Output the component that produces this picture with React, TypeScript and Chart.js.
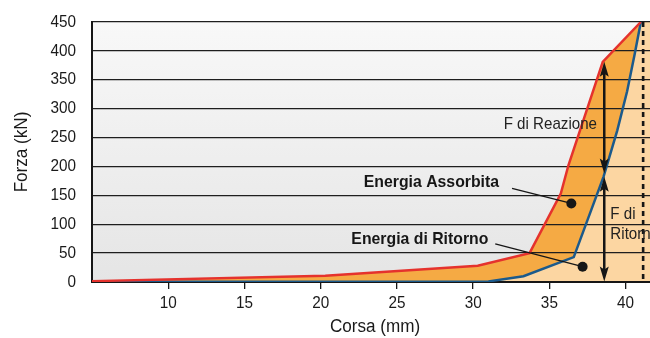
import React, { useEffect, useRef } from 'react';
import { Chart, registerables } from 'chart.js';

// ---- data ----
const X_MIN = 5;
const X_MAX = 41.6;
const xTickValues = [10, 15, 20, 25, 30, 35, 40];
const Y_MIN = 0;
const Y_MAX = 450;
const Y_STEP = 50;
const xTitle = 'Corsa (mm)';
const yTitle = 'Forza (kN)';

// Curva di reazione (carico)
const reazioneX = [5, 20.3, 30.3, 33.7, 35.75, 36.25, 38.5, 41];
const reazioneY = [1.5, 11, 28, 50, 153, 202, 381, 450];

// Curva di ritorno
const ritornoX = [5, 31, 33.3, 36.6, 38.55, 39.45, 40.1, 40.6, 41];
const ritornoY = [0.5, 1, 10, 43, 182, 262, 330, 395, 450];

// annotazioni (coordinate dati)
const corsaMaxX = 41.15;
const arrowX = 38.6;
const reazioneArrow = [381, 188];
const ritornoArrow = [182, 1];
const labelReazione = { text: 'F di Reazione', x: 32.0, y: 273 };
const labelRitorno = { lines: ['F di', 'Ritorno'], x: 39.0, y: [117, 82] };
const labelAssorbita = { text: 'Energia Assorbita', x: 31.7, y: 173, from: [32.55, 162], dot: [36.44, 136] };
const labelEnRitorno = { text: 'Energia di Ritorno', x: 31.0, y: 74, from: [31.45, 66], dot: [37.18, 26.5] };

const FONT = '"Liberation Sans", Arial, sans-serif';
const CONDENSE = 0.9;
const RED = '#E5322D';
const BLUE = '#1B5A8C';
const ORANGE = '#F5AA44';
const PEACH = '#FCD6A2';
const INK = '#161616';

const bgPlugin = {
  id: 'bandBackground',
  beforeDraw(chart: any) {
    const { ctx, chartArea } = chart;
    if (!chartArea) return;
    const g = ctx.createLinearGradient(0, chartArea.top, 0, chartArea.bottom);
    g.addColorStop(0, '#f8f8f8');
    g.addColorStop(1, '#e5e5e5');
    ctx.save();
    ctx.fillStyle = g;
    ctx.fillRect(chartArea.left, chartArea.top, chartArea.right - chartArea.left, chartArea.bottom - chartArea.top);
    ctx.restore();
  },
};

Chart.register(bgPlugin);
Chart.register(...registerables);

function text(
  ctx: CanvasRenderingContext2D,
  s: string,
  x: number,
  y: number,
  align: CanvasTextAlign,
  font: string,
  sx = CONDENSE,
  rot = 0
) {
  ctx.save();
  ctx.translate(x, y);
  if (rot) ctx.rotate(rot);
  ctx.scale(sx, 1);
  ctx.font = font;
  ctx.textAlign = align;
  ctx.textBaseline = 'middle';
  ctx.fillText(s, 0, 0);
  ctx.restore();
}

function arrowHead(ctx: CanvasRenderingContext2D, x: number, tipY: number, dir: number) {
  const len = 15;
  const hw = 4.5;
  ctx.beginPath();
  ctx.moveTo(x, tipY);
  ctx.lineTo(x - hw, tipY + dir * len);
  ctx.lineTo(x, tipY + dir * (len - 3));
  ctx.lineTo(x + hw, tipY + dir * len);
  ctx.closePath();
  ctx.fill();
}

function doubleArrow(ctx: CanvasRenderingContext2D, x: number, yTop: number, yBot: number) {
  ctx.beginPath();
  ctx.moveTo(x, yTop + 10);
  ctx.lineTo(x, yBot - 10);
  ctx.stroke();
  arrowHead(ctx, x, yTop, 1);
  arrowHead(ctx, x, yBot, -1);
}

const axisTextPlugin = {
  id: 'axisText',
  afterDraw(chart: any) {
    const { ctx, chartArea } = chart;
    const xs = chart.scales.x;
    const ys = chart.scales.y;
    ctx.save();
    ctx.fillStyle = '#1a1a1a';
    const tickFont = `17px ${FONT}`;
    ys.ticks.forEach((t: any) => {
      text(ctx, String(t.value), 76, ys.getPixelForValue(t.value), 'right', tickFont);
    });
    xTickValues.forEach((v) => {
      text(ctx, String(v), xs.getPixelForValue(v), chartArea.bottom + 21, 'center', tickFont);
    });
    const titleFont = `18px ${FONT}`;
    text(ctx, xTitle, (chartArea.left + chartArea.right) / 2 + 4, 327.5, 'center', titleFont, 0.95);
    text(ctx, yTitle, 22, (chartArea.top + chartArea.bottom) / 2, 'center', titleFont, 0.95, -Math.PI / 2);
    ctx.restore();
  },
};

const notesPlugin = {
  id: 'notes',
  afterDatasetsDraw(chart: any) {
    const { ctx } = chart;
    const xs = chart.scales.x;
    const ys = chart.scales.y;
    const px = (v: number) => xs.getPixelForValue(v);
    const py = (v: number) => ys.getPixelForValue(v);
    ctx.save();
    // dashed end-of-stroke line
    ctx.strokeStyle = INK;
    ctx.lineWidth = 2.6;
    ctx.setLineDash([5, 4]);
    ctx.beginPath();
    ctx.moveTo(px(corsaMaxX), py(Y_MAX));
    ctx.lineTo(px(corsaMaxX), py(Y_MIN));
    ctx.stroke();
    ctx.setLineDash([]);

    // arrows
    ctx.fillStyle = INK;
    ctx.lineWidth = 2.5;
    doubleArrow(ctx, px(arrowX), py(reazioneArrow[0]), py(reazioneArrow[1]));
    doubleArrow(ctx, px(arrowX), py(ritornoArrow[0]), py(ritornoArrow[1]));

    // leader lines + dots
    ctx.lineWidth = 1.3;
    for (const l of [labelAssorbita, labelEnRitorno]) {
      ctx.beginPath();
      ctx.moveTo(px(l.from[0]), py(l.from[1]));
      ctx.lineTo(px(l.dot[0]), py(l.dot[1]));
      ctx.stroke();
      ctx.beginPath();
      ctx.arc(px(l.dot[0]), py(l.dot[1]), 5, 0, Math.PI * 2);
      ctx.fill();
    }

    // texts
    const bold = `bold 17px ${FONT}`;
    text(ctx, labelAssorbita.text, px(labelAssorbita.x), py(labelAssorbita.y), 'right', bold, 0.93);
    text(ctx, labelEnRitorno.text, px(labelEnRitorno.x), py(labelEnRitorno.y), 'right', bold, 0.93);

    ctx.fillStyle = '#222';
    const reg = `17px ${FONT}`;
    text(ctx, labelReazione.text, px(labelReazione.x), py(labelReazione.y), 'left', reg, 0.89);
    labelRitorno.lines.forEach((t, i) => {
      text(ctx, t, px(labelRitorno.x), py(labelRitorno.y[i]), 'left', reg, 0.89);
    });
    ctx.restore();
  },
};

export default function App() {
  const ref = useRef<HTMLCanvasElement | null>(null);

  useEffect(() => {
    if (!ref.current) return;
    const reazione = reazioneX.map((x, i) => ({ x, y: reazioneY[i] }));
    const ritorno = ritornoX.map((x, i) => ({ x, y: ritornoY[i] }));
    const ritornoArea = [...ritorno, { x: X_MAX, y: Y_MAX }];

    const chart = new Chart(ref.current, {
      type: 'line',
      data: {
        datasets: [
          {
            label: 'F di Reazione',
            data: reazione,
            borderColor: RED,
            borderWidth: 2.5,
            pointRadius: 0,
            tension: 0,
            fill: '+1',
            backgroundColor: ORANGE,
          },
          {
            label: 'F di Ritorno',
            data: ritorno,
            borderColor: BLUE,
            borderWidth: 2.5,
            pointRadius: 0,
            tension: 0,
            fill: false,
          },
          {
            label: 'area ritorno',
            data: ritornoArea,
            borderWidth: 0,
            borderColor: 'rgba(0,0,0,0)',
            pointRadius: 0,
            tension: 0,
            fill: 'origin',
            backgroundColor: PEACH,
          },
        ],
      },
      options: {
        animation: false,
        responsive: false,
        devicePixelRatio: 1,
        layout: { padding: { top: 22, right: 0, left: 0, bottom: 0 } },
        plugins: {
          legend: { display: false },
          tooltip: { enabled: false },
          filler: { drawTime: 'beforeDraw' },
        },
        scales: {
          x: {
            type: 'linear',
            min: X_MIN,
            max: X_MAX,
            afterBuildTicks: (s: any) => {
              s.ticks = xTickValues.map((value) => ({ value }));
            },
            afterFit: (s: any) => {
              s.height = 56;
            },
            grid: { drawOnChartArea: false, drawTicks: true, tickLength: 7, color: INK, lineWidth: 1.3 },
            border: { display: true, color: INK, width: 2 },
            ticks: { display: false },
            title: { display: false },
          },
          y: {
            min: Y_MIN,
            max: Y_MAX,
            afterFit: (s: any) => {
              s.width = 92;
            },
            grid: { color: '#1e1e1e', lineWidth: 1.3, drawTicks: false },
            border: { display: true, color: INK, width: 2 },
            ticks: { stepSize: Y_STEP, display: false },
            title: { display: false },
          },
        },
      },
      plugins: [notesPlugin, axisTextPlugin],
    } as any);
    return () => chart.destroy();
  }, []);

  return (
    <div style={{ position: 'fixed', left: 0, top: 0, width: 650, height: 338, background: '#fff' }}>
      <canvas ref={ref} width={650} height={338} style={{ display: 'block', width: 650, height: 338 }} />
    </div>
  );
}
